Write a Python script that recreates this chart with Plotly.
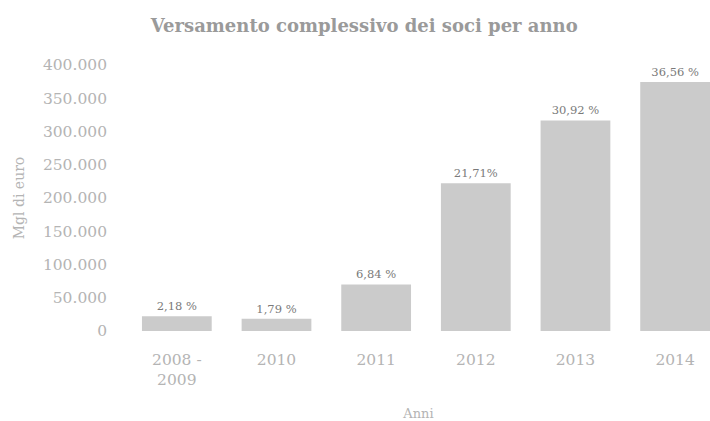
"""Versamento complessivo dei soci per anno - bar chart."""
import plotly.graph_objects as go

# Data
anni = ['2008 -<br>2009', '2010', '2011', '2012', '2013', '2014']
versamenti = [22300, 18300, 70000, 222300, 316600, 374400]  # migliaia di euro
percentuali = ['2,18 %', '1,79 %', '6,84 %', '21,71%', '30,92 %', '36,56 %']
y_ticks = [0, 50000, 100000, 150000, 200000, 250000, 300000, 350000, 400000]

SERIF = 'DejaVu Serif'
TICK_GREY = '#b4b4b4'

fig = go.Figure()

fig.add_trace(go.Bar(
    x=anni,
    y=versamenti,
    text=percentuali,
    textposition='outside',
    cliponaxis=False,
    textfont=dict(family=SERIF, size=11.5, color='#7a7a7a'),
    marker=dict(color='#cbcbcb', line=dict(width=0)),
    hoverinfo='skip',
))

fig.update_layout(
    width=710,
    height=421,
    margin=dict(l=127, r=0, t=65, b=90),
    paper_bgcolor='white',
    plot_bgcolor='white',
    separators=',.',
    bargap=0.3,
    showlegend=False,
    title=dict(
        text='<b>Versamento complessivo dei soci per anno</b>',
        x=0.513, xanchor='center',
        y=0.94, yanchor='middle',
        font=dict(family=SERIF, size=18, color='#9a9a9a'),
    ),
    xaxis=dict(
        type='category',
        range=[-0.5, 5.35],
        showgrid=False,
        showline=False,
        zeroline=False,
        ticks='',
        ticklabelstandoff=17,
        tickfont=dict(family=SERIF, size=15.5, color=TICK_GREY),
        title=dict(text='Anni', standoff=22,
                   font=dict(family=SERIF, size=13, color=TICK_GREY)),
    ),
    yaxis=dict(
        range=[0, 400000],
        tickvals=y_ticks,
        tickformat=',d',
        showgrid=False,
        showline=False,
        zeroline=False,
        ticks='',
        ticklabelstandoff=19,
        tickfont=dict(family=SERIF, size=15.5, color=TICK_GREY),
        title=dict(text='Mgl di euro', standoff=14,
                   font=dict(family=SERIF, size=14, color=TICK_GREY)),
    ),
)

# drop the default page margin so the figure sits at the window origin
fig.write_html(
    "out.html",
    config={'displayModeBar': False},
    post_script="document.body.style.margin = '0';",
)
